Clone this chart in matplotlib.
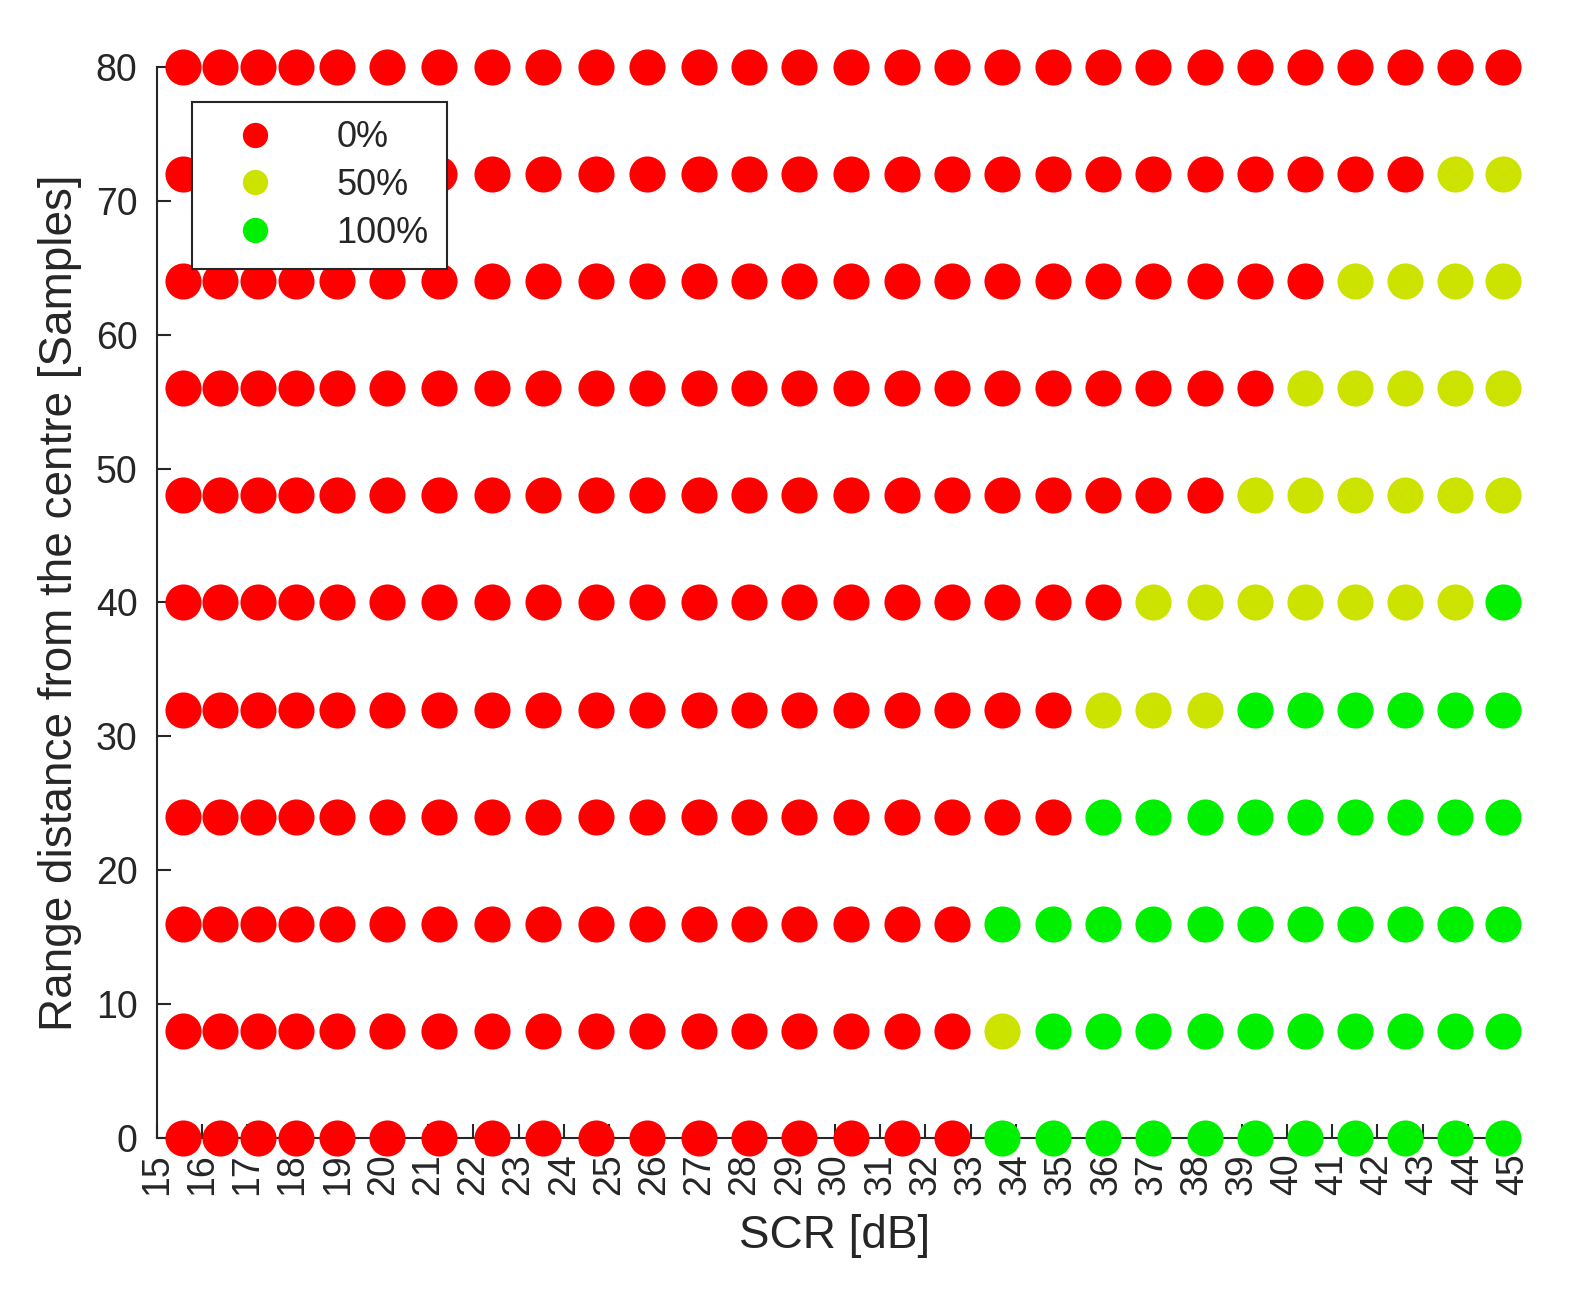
import matplotlib.pyplot as plt
import numpy as np

plt.rcParams['font.family'] = ['Liberation Sans', 'DejaVu Sans']

# SCR values of the measured columns [dB]
scr = [15.58, 16.39, 17.23, 18.08, 18.98, 20.09, 21.24, 22.41, 23.54, 24.71,
       25.84, 26.99, 28.10, 29.20, 30.35, 31.48, 32.59, 33.69, 34.82, 35.93,
       37.04, 38.19, 39.29, 40.40, 41.50, 42.61, 43.72, 44.78]
# range distance rows [samples]
rng = [0, 8, 16, 24, 32, 40, 48, 56, 64, 72, 80]
# detection rate [%] per row (bottom to top), per SCR column
rate = [
    [0]*17 + [100]*11,
    [0]*17 + [50] + [100]*10,
    [0]*17 + [100]*11,
    [0]*19 + [100]*9,
    [0]*19 + [50]*3 + [100]*6,
    [0]*20 + [50]*7 + [100],
    [0]*22 + [50]*6,
    [0]*23 + [50]*5,
    [0]*24 + [50]*4,
    [0]*26 + [50]*2,
    [0]*28,
]
levels = [0, 50, 100]
labels = ['0%', '50%', '100%']
colors = ['#FF0000', '#CCE300', '#00F000']

txt = '#262626'
fig = plt.figure(figsize=(15.79, 13.13), dpi=100)
ax = fig.add_axes([0.0994, 0.1333, 0.8588, 0.8157])

X, Y = np.meshgrid(scr, rng)
R = np.array(rate)
for lev, lab, col in zip(levels, labels, colors):
    m = R == lev
    ax.plot(X[m], Y[m], 'o', ms=26, color=col, mec='none', label=lab, clip_on=False, zorder=3)

ax.set_xlim(15, 45)
ax.set_ylim(0, 80)
ax.set_xticks(np.arange(15, 46))
ax.set_yticks(np.arange(0, 81, 10))
ax.tick_params(axis='x', rotation=90, pad=11)
ax.tick_params(axis='y', pad=14)
ax.tick_params(direction='in', length=10, width=1.5, labelsize=27, colors=txt)
for s in ['top', 'right']:
    ax.spines[s].set_visible(False)
for s in ['left', 'bottom']:
    ax.spines[s].set_linewidth(1.5)
    ax.spines[s].set_color(txt)

ax.set_xlabel('SCR [dB]', fontsize=33, color=txt, labelpad=14)
ax.set_ylabel('Range distance from the centre [Samples]', fontsize=33, color=txt, labelpad=10)

leg = ax.legend(loc='upper left', bbox_to_anchor=(0.0258, 0.967), borderaxespad=0,
                fontsize=26, markerscale=0.7, frameon=True, fancybox=False, framealpha=1,
                handletextpad=1.0, borderpad=0.5, labelspacing=0.35, handlelength=2.5)
leg.set_zorder(10)
leg.get_frame().set_edgecolor(txt)
leg.get_frame().set_linewidth(1.5)
for t in leg.get_texts():
    t.set_color(txt)

fig.savefig('out.png', dpi=100)
